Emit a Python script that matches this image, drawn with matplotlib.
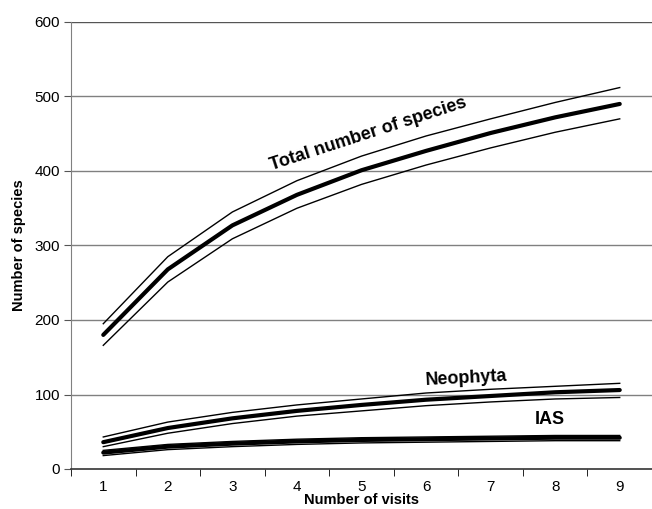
import matplotlib
matplotlib.use("Agg")
import matplotlib.pyplot as plt

plt.rcParams['font.family'] = ['Liberation Sans', 'DejaVu Sans']

visits = [1, 2, 3, 4, 5, 6, 7, 8, 9]
total_mean = [180, 268, 327, 368, 401, 427, 451, 472, 490]
total_upper = [195, 285, 345, 387, 420, 447, 470, 492, 512]
total_lower = [166, 251, 309, 350, 382, 408, 431, 452, 470]
neo_mean = [36, 55, 68, 78, 86, 93, 98, 103, 106]
neo_upper = [43, 63, 76, 86, 94, 102, 107, 111, 115]
neo_lower = [30, 48, 61, 71, 78, 85, 90, 94, 96]
ias_mean = [22, 30, 34, 37, 39, 40, 41, 42, 42]
ias_upper = [25, 33, 37, 40, 42, 43, 44, 45, 45]
ias_lower = [18, 26, 30, 33, 35, 36, 37, 38, 38]
yticks = [0, 100, 200, 300, 400, 500, 600]

fig = plt.figure(figsize=(6.52, 5.09), dpi=100)
ax = fig.add_axes([71/652, 1-469/509, 581/652, 447/509])

for m, u, l in [(total_mean, total_upper, total_lower),
                (neo_mean, neo_upper, neo_lower),
                (ias_mean, ias_upper, ias_lower)]:
    ax.plot(visits, u, color='black', lw=1.0, zorder=3)
    ax.plot(visits, l, color='black', lw=1.0, zorder=3)
    ax.plot(visits, m, color='black', lw=3.0, zorder=4, solid_capstyle='round')

ax.set_xlim(0.5, 9.5)
ax.set_ylim(0, 600)
ax.set_yticks(yticks)
ax.set_xticks(visits)
ax.set_xticks([x + 0.5 for x in range(0, 10)], minor=True)
ax.tick_params(axis='x', which='major', length=0, pad=8, labelsize=11)
ax.tick_params(axis='x', which='minor', length=5, direction='out', color='black')
ax.tick_params(axis='y', length=5, direction='out', color='#555555', labelsize=11, pad=3)
for y in yticks[1:]:
    ax.axhline(y, color='#808080' if y < 600 else '#555555', lw=1.0, zorder=1)
ax.spines['top'].set_visible(False)
ax.spines['right'].set_visible(False)
ax.spines['left'].set_color('#808080')
ax.spines['bottom'].set_color('#333333')
ax.spines['bottom'].set_linewidth(1.2)

ax.set_xlabel('Number of visits', fontsize=10.5, fontweight='bold', labelpad=-1)
ax.set_ylabel('Number of species', fontsize=10.5, fontweight='bold', labelpad=6)

ax.text(5.1, 450, 'Total number of species', rotation=18, fontsize=13, fontweight='bold',
        ha='center', va='center')
ax.text(6.62, 122, 'Neophyta', rotation=3, fontsize=13, fontweight='bold', ha='center', va='center')
ax.text(7.91, 67, 'IAS', fontsize=13, fontweight='bold', ha='center', va='center')

fig.savefig('out.png', dpi=100)
